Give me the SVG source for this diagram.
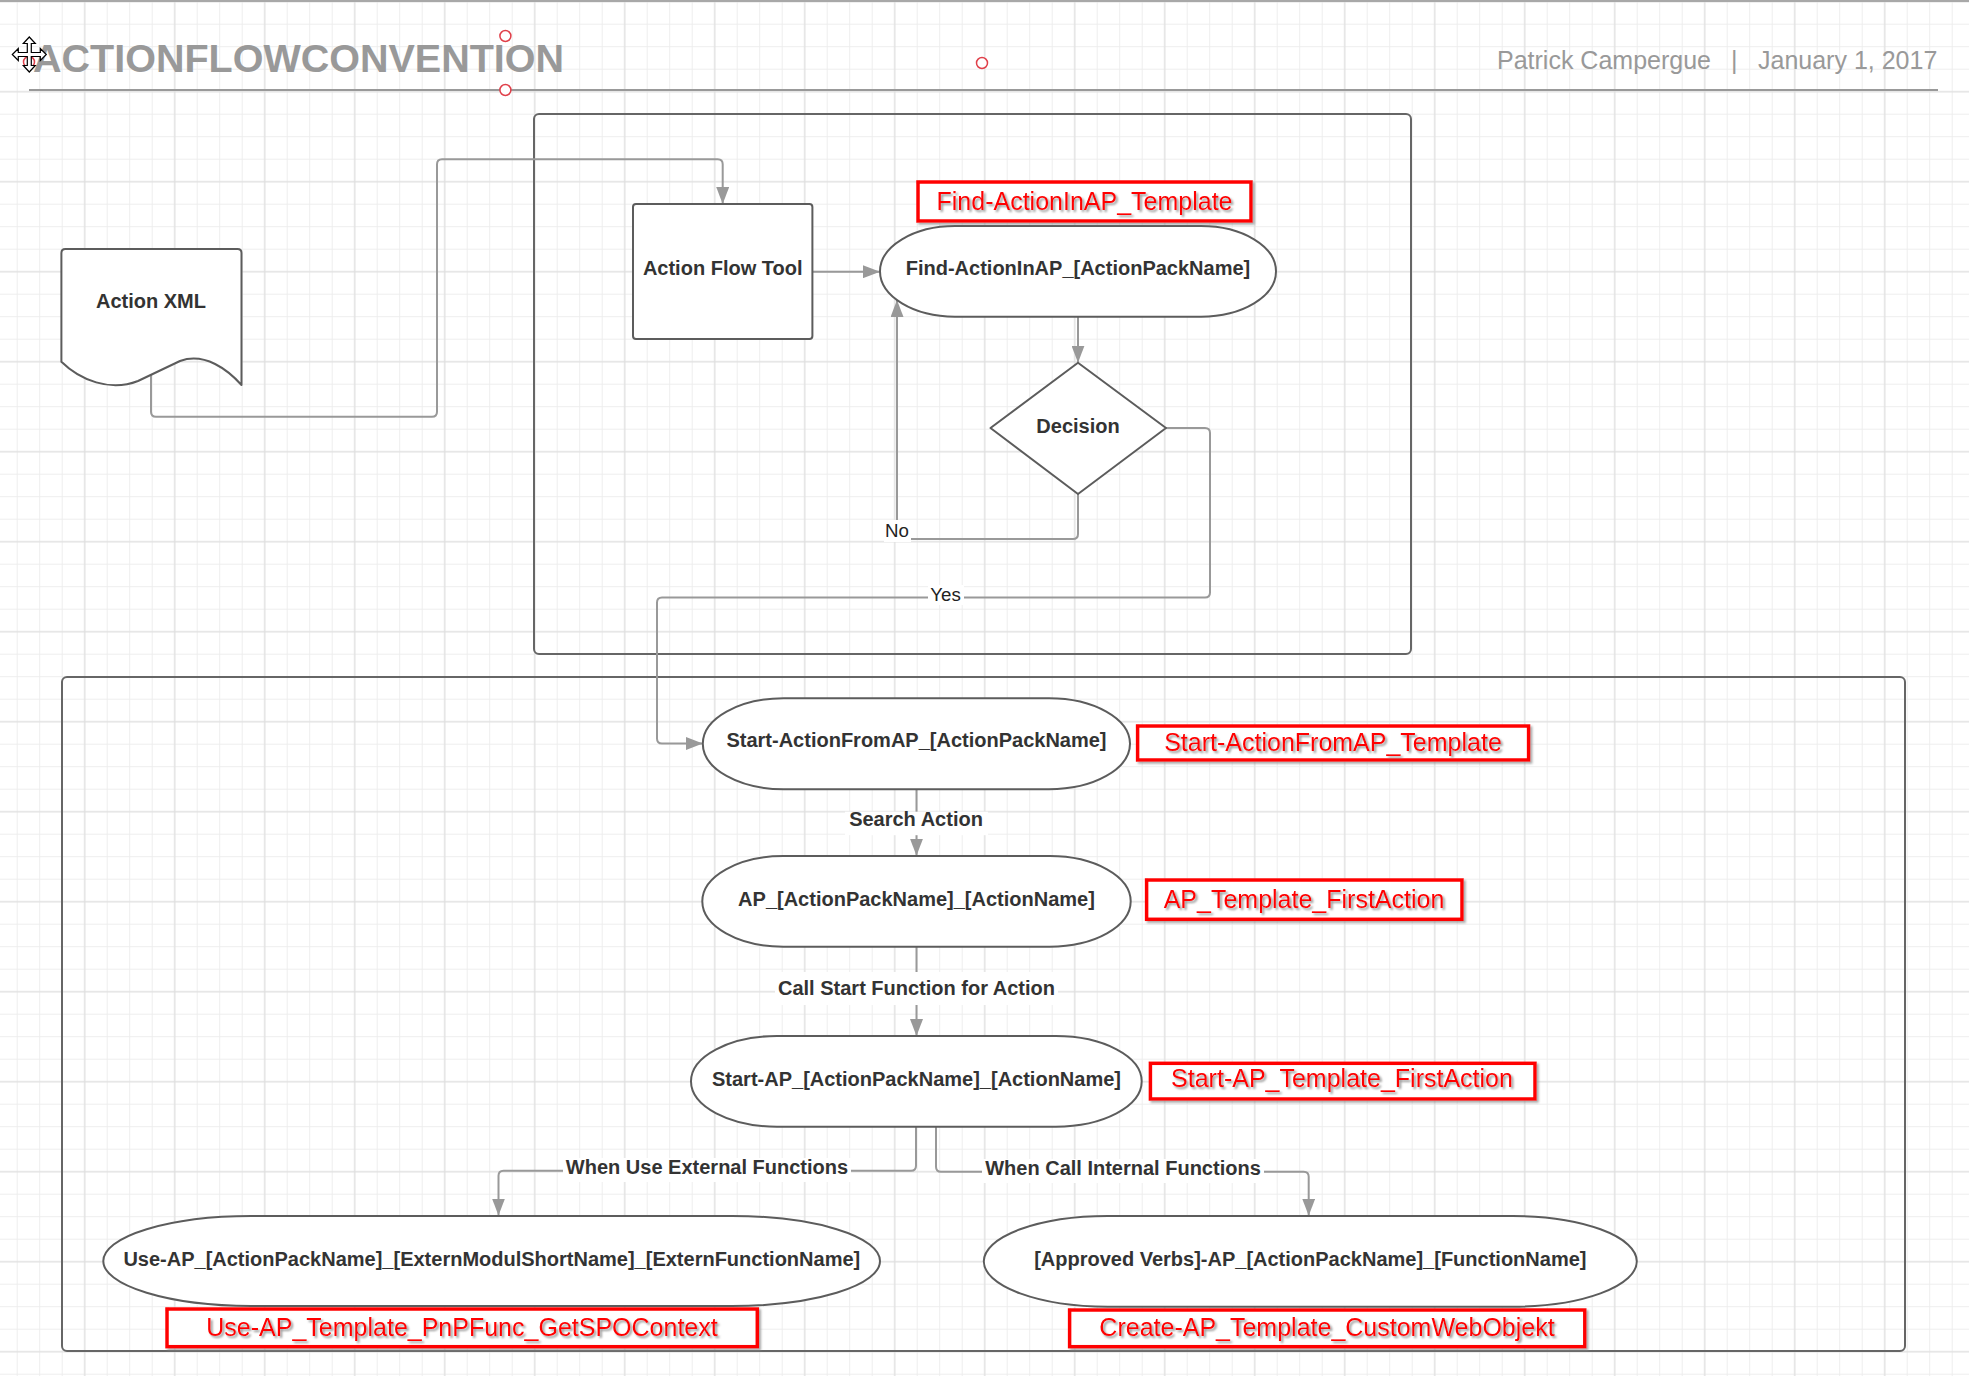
<svg xmlns="http://www.w3.org/2000/svg" width="1969" height="1376" viewBox="0 0 1969 1376">
  <defs>
    <style>
      .node { fill:#fff; stroke:#5c5c5c; stroke-width:2; stroke-linejoin:round; }
      .container { fill:none; stroke:#666; stroke-width:2; }
      .conn { fill:none; stroke:#999; stroke-width:2; }
      .nt { font-family:"Liberation Sans", Arial, sans-serif; font-weight:bold; font-size:20px; fill:#333; text-anchor:middle; }
      .yn { font-family:"Liberation Sans", Arial, sans-serif; font-size:18.7px; fill:#222; text-anchor:middle; }
      .red { font-family:"Liberation Sans", Arial, sans-serif; font-size:25px; fill:#f00; text-anchor:middle; filter:url(#ts); }
      .redbox { fill:#fff; stroke:#f00; stroke-width:3.5; filter:url(#bs); }
      .lblbg { fill:#fff; }
      .handle { fill:#fff; stroke:#e0404a; stroke-width:1.5; }
      .hdr { font-family:"Liberation Sans", Arial, sans-serif; fill:#999; }
    </style>
    <pattern id="gridMinor" patternUnits="userSpaceOnUse" x="5.95" y="-9.55" width="22.5" height="22.5">
      <path d="M11.25,0 V22.5 M0,11.25 H22.5" stroke="#ededed" stroke-width="1" fill="none"/>
    </pattern>
    <pattern id="gridMajor" patternUnits="userSpaceOnUse" x="39.7" y="-43.3" width="90" height="90">
      <path d="M45,0 V90 M0,45 H90" stroke="#dcdcdc" stroke-width="1" fill="none"/>
    </pattern>
    <filter id="ts" x="-10%" y="-30%" width="120%" height="160%">
      <feDropShadow dx="2" dy="2" stdDeviation="1" flood-color="#777" flood-opacity="0.75"/>
    </filter>
    <filter id="bs" x="-5%" y="-20%" width="110%" height="150%">
      <feDropShadow dx="2" dy="2" stdDeviation="1" flood-color="#888" flood-opacity="0.7"/>
    </filter>
    <marker id="arr" markerUnits="userSpaceOnUse" viewBox="0 0 17 13" markerWidth="17" markerHeight="13" refX="17" refY="6.5" orient="auto">
      <path d="M0,0 L17,6.5 L0,13 Z" fill="#999"/>
    </marker>
  </defs>

  <!-- background grid -->
  <rect x="0" y="0" width="1969" height="1376" fill="#fff"/>
  <rect x="0" y="0" width="1969" height="1376" fill="url(#gridMinor)"/>
  <rect x="0" y="0" width="1969" height="1376" fill="url(#gridMajor)"/>
  <line x1="0" y1="1" x2="1969" y2="1" stroke="#a8a8a8" stroke-width="2"/>

  <!-- header -->
  <g id="header">
    <text class="hdr" x="33" y="72" font-size="39.5" font-weight="bold">ACTIONFLOWCONVENTION</text>
    <line x1="29" y1="90" x2="1938" y2="90" stroke="#999" stroke-width="2"/>
    <text class="hdr" y="69" font-size="25"><tspan x="1497">Patrick Campergue</tspan><tspan x="1731">|</tspan><tspan x="1758">January 1, 2017</tspan></text>
    <circle class="handle" cx="505.4" cy="36" r="5.5"/>
    <circle class="handle" cx="505.4" cy="90" r="5.5"/>
    <circle class="handle" cx="982" cy="63" r="5.5"/>
    <circle class="handle" cx="29" cy="62" r="5.5"/>
    <path transform="translate(29.3,54.5)" d="M0,-17.5 L6,-11 L2,-11 L2,-2 L11,-2 L11,-6 L17,0 L11,6 L11,2 L2,2 L2,11 L6,11 L0,17.5 L-6,11 L-2,11 L-2,2 L-11,2 L-11,6 L-17,0 L-11,-6 L-11,-2 L-2,-2 L-2,-11 L-6,-11 Z" fill="#fff" stroke="#000" stroke-width="1.2" stroke-linejoin="miter"/>
  </g>

  <!-- containers -->
  <g id="container-top">
    <rect class="container" x="534" y="114" width="877" height="540" rx="5"/>
  </g>
  <g id="container-bottom">
    <rect class="container" x="62" y="677" width="1843" height="674" rx="5"/>
  </g>

  <!-- connectors -->
  <g id="connectors">
    <path class="conn" d="M151,374 V411.7 Q151,416.7 156,416.7 H432 Q437,416.7 437,411.7 V164.3 Q437,159.3 442,159.3 H717.7 Q722.7,159.3 722.7,164.3 V204" marker-end="url(#arr)"/>
    <path class="conn" d="M812.4,271.7 H880" marker-end="url(#arr)"/>
    <path class="conn" d="M1078,316.7 V362.7" marker-end="url(#arr)"/>
    <path class="conn" d="M1078,494 V534 Q1078,539 1073,539 H902 Q897,539 897,534 V300" marker-end="url(#arr)"/>
    <path class="conn" d="M1166,428 H1205 Q1210,428 1210,433 V592.5 Q1210,597.5 1205,597.5 H662 Q657,597.5 657,602.5 V738.5 Q657,743.5 662,743.5 H702.8" marker-end="url(#arr)"/>
    <path class="conn" d="M916.5,789.3 V855.7" marker-end="url(#arr)"/>
    <path class="conn" d="M916.5,946.7 V1036" marker-end="url(#arr)"/>
    <path class="conn" d="M916,1126.7 V1165.7 Q916,1170.7 911,1170.7 H503.5 Q498.5,1170.7 498.5,1175.7 V1215.5" marker-end="url(#arr)"/>
    <path class="conn" d="M936,1126.7 V1166.7 Q936,1171.7 941,1171.7 H1303.7 Q1308.7,1171.7 1308.7,1176.7 V1215.7" marker-end="url(#arr)"/>

    <rect class="lblbg" x="884" y="520" width="27" height="22"/>
    <text class="yn" x="897" y="536.7">No</text>
    <rect class="lblbg" x="928" y="585" width="36" height="20"/>
    <text class="yn" x="945.5" y="601">Yes</text>
    <rect class="lblbg" x="845" y="811.7" width="143" height="23.5"/>
    <text class="nt" x="916" y="825.7">Search Action</text>
    <rect class="lblbg" x="775" y="972" width="283" height="33"/>
    <text class="nt" x="916.5" y="995">Call Start Function for Action</text>
    <rect class="lblbg" x="563" y="1158" width="288" height="24"/>
    <text class="nt" x="707" y="1174">When Use External Functions</text>
    <rect class="lblbg" x="982" y="1159" width="282" height="24"/>
    <text class="nt" x="1123" y="1175">When Call Internal Functions</text>
  </g>

  <!-- nodes -->
  <g id="action-xml">
    <path class="node" d="M61.4,253 Q61.4,249 65.4,249 H237.5 Q241.5,249 241.5,253 V385 C228,370 205,352 180,361 L138,381 C110,392 80,380 61.4,361.7 Z"/>
    <text class="nt" x="151" y="308">Action XML</text>
  </g>
  <g id="action-flow-tool">
    <rect class="node" x="633" y="204" width="179.4" height="135" rx="3"/>
    <text class="nt" x="722.7" y="275">Action Flow Tool</text>
  </g>
  <g id="find-action">
    <rect class="node" x="880" y="226" width="396" height="90.7" rx="75" ry="45.35"/>
    <text class="nt" x="1078" y="275">Find-ActionInAP_[ActionPackName]</text>
  </g>
  <g id="decision">
    <path class="node" d="M1078,362.7 L1166,428 L1078,494 L990.5,428 Z"/>
    <text class="nt" x="1078" y="432.7">Decision</text>
  </g>
  <g id="start-action-from-ap">
    <rect class="node" x="702.8" y="698.3" width="427.2" height="91" rx="81" ry="45.5"/>
    <text class="nt" x="916.5" y="747">Start-ActionFromAP_[ActionPackName]</text>
  </g>
  <g id="ap-action">
    <rect class="node" x="702.3" y="856" width="428.4" height="90.7" rx="81" ry="45.35"/>
    <text class="nt" x="916.5" y="906">AP_[ActionPackName]_[ActionName]</text>
  </g>
  <g id="start-ap-action">
    <rect class="node" x="691" y="1036" width="450.7" height="90.7" rx="86" ry="45.35"/>
    <text class="nt" x="916.5" y="1086">Start-AP_[ActionPackName]_[ActionName]</text>
  </g>
  <g id="use-ap">
    <rect class="node" x="103.3" y="1216" width="776.7" height="90" rx="148" ry="45"/>
    <text class="nt" x="491.8" y="1265.5">Use-AP_[ActionPackName]_[ExternModulShortName]_[ExternFunctionName]</text>
  </g>
  <g id="approved-verbs">
    <rect class="node" x="983.8" y="1216" width="653" height="90.7" rx="124" ry="45.35"/>
    <text class="nt" x="1310.3" y="1265.5">[Approved Verbs]-AP_[ActionPackName]_[FunctionName]</text>
  </g>

  <!-- red template labels -->
  <g id="tpl-find">
    <rect class="redbox" x="918" y="182" width="333" height="39"/>
    <text class="red" x="1084.5" y="209.5">Find-ActionInAP_Template</text>
  </g>
  <g id="tpl-start-action">
    <rect class="redbox" x="1137.6" y="726" width="391" height="34"/>
    <text class="red" x="1333" y="750.5">Start-ActionFromAP_Template</text>
  </g>
  <g id="tpl-ap">
    <rect class="redbox" x="1146.6" y="880" width="315.4" height="39.3"/>
    <text class="red" x="1304" y="908">AP_Template_FirstAction</text>
  </g>
  <g id="tpl-start-ap">
    <rect class="redbox" x="1150.4" y="1063.3" width="384.6" height="35.7"/>
    <text class="red" x="1342" y="1087">Start-AP_Template_FirstAction</text>
  </g>
  <g id="tpl-use">
    <rect class="redbox" x="167" y="1309" width="590.3" height="37.7"/>
    <text class="red" x="462" y="1335.5">Use-AP_Template_PnPFunc_GetSPOContext</text>
  </g>
  <g id="tpl-create">
    <rect class="redbox" x="1069.6" y="1310" width="515.2" height="36.7"/>
    <text class="red" x="1327" y="1335.5">Create-AP_Template_CustomWebObjekt</text>
  </g>
</svg>
